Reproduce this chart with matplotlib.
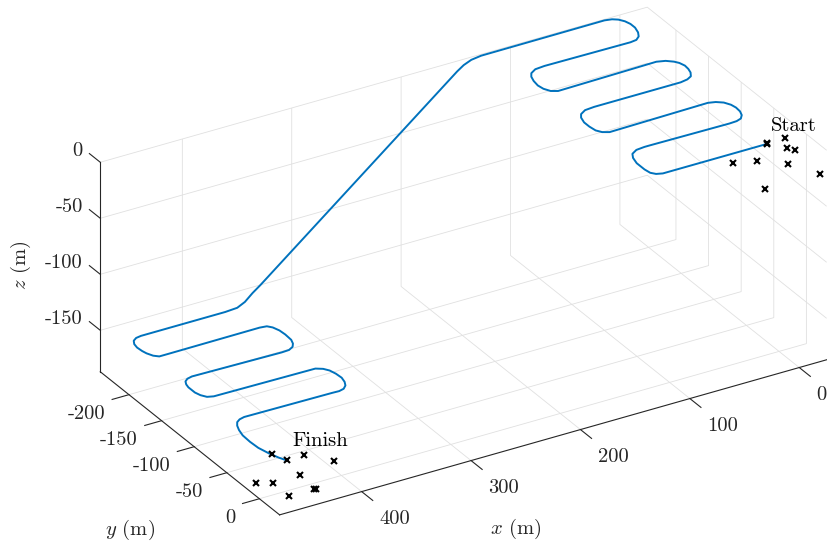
import numpy as np
import matplotlib
matplotlib.use("Agg")
import matplotlib.pyplot as plt
from mpl_toolkits.mplot3d import proj3d

# ---------------- data ----------------
# vehicle track: surface lawnmower, dive, deep lawnmower
path_x = [12, 105, 110, 113, 114, 114, 112, 109, 103, 95, 90,
          18, 11, 6, 2.5, 0.5, 0, 1, 4, 9, 15,
          106, 111, 114, 115, 115, 113, 110, 104, 95,
          16, 9, 4, 1, -0.5, -1, 0.5, 3, 8, 15,
          106, 111, 114, 115, 114, 112, 109, 103, 94,
          16, 10, 5.5, 2.5, 0.5, 0.5, 2, 5, 9, 15,
          128, 137, 144, 150, 330, 337, 344, 351, 362,
          439, 444, 448, 450.5, 451.5, 451, 450, 447.5, 444, 436,
          352, 346, 343, 341, 340.5, 341, 343, 346, 351, 358,
          439, 444, 447.5, 449.5, 450.5, 450.5, 449, 446, 441,
          349, 344, 341, 339.5, 339, 340.5, 343, 347, 352, 358,
          438, 443, 447, 450, 452.5, 454.5, 455, 454.5, 452, 449, 446]
path_y = [-2, -2, -4, -8, -15, -27, -36, -42, -46, -47, -47,
          -46, -46.5, -48.5, -53, -59, -66, -72, -78, -82, -84,
          -82, -85, -90, -98, -106, -114, -119, -123, -124,
          -124, -125.5, -128.5, -134, -140, -146, -152, -156, -160.5, -163,
          -161, -164, -170, -177, -185, -192, -197, -201, -202,
          -201, -202, -206, -212, -220, -227, -233, -238, -241, -242.5,
          -242, -242, -242, -242, -242, -242, -242, -242, -242,
          -242, -241, -238, -233, -227, -220, -215, -209, -205.5, -205.5,
          -206, -205, -201, -194, -186, -176, -170, -165.5, -162.5, -162,
          -164, -162.5, -159.5, -155, -150, -140, -134, -129, -127,
          -125.5, -122, -117, -110, -102, -95, -89.5, -85.5, -84, -84.3,
          -85.5, -84, -81, -76, -69, -60, -48, -36, -24, -14, -7]
path_z = ([0] * 60 +
          [-1.2, -4, -8, -149, -154, -160, -163.3, -164] +
          [-164] * 50)

# beacon / fix markers near start and finish
start_mx = [-6.8, 10, 9, -0.7, -4.1, 49.5, 30.7, 8.0, -24.3, 21.1]
start_my = [-2.9, -1.9, -3.5, 11.3, 17.8, 11.7, 17.6, 26.7, 22.4, 14.3]
start_mz = [0, 0, 0, 0, 0, 0, 0, -5, -25, -30]
finish_mx = [430.3, 425.8, 410.2, 394.6, 429.2, 465.3, 454.3, 430.1, 432.0, 454.3]
finish_my = [-55.7, -40.5, -40.8, -20.9, -14.5, -20.9, -13.5, 12.1, 11.0, 10.7]
finish_mz = [-185] * 10

x_ticks = [0, 100, 200, 300, 400]
y_ticks = [-200, -150, -100, -50, 0]
z_ticks = [-150, -100, -50, 0]
x_ticklabels = ["0", "100", "200", "300", "400"]
y_ticklabels = ["-200", "-150", "-100", "-50", "0"]
z_ticklabels = ["-150", "-100", "-50", "0"]
x_lim = (-25, 475)
y_lim = (-244, 31)
z_lim = (-187, 0)

# ---------------- style ----------------
plt.rcParams["font.family"] = "serif"
plt.rcParams["font.serif"] = ["cmr10"]
plt.rcParams["mathtext.fontset"] = "cm"
plt.rcParams["axes.unicode_minus"] = False
plt.rcParams["grid.color"] = "#e0e0e0"
plt.rcParams["grid.linewidth"] = 0.6
FS = 14.8
TXT = "#262626"
TICK_LW = 0.8

W, H = 827, 544
fig = plt.figure(figsize=(W / 100, H / 100), dpi=100)
S = 520.0
cx, cy = 462.8, H - 261.0
ax = fig.add_axes([(cx - S / 2) / W, (cy - S / 2) / H, S / W, S / H],
                  projection="3d", proj_type="ortho")
ax.view_init(elev=28.4, azim=59.2)
ax.set_xlim(*x_lim)
ax.set_ylim(*y_lim)
ax.set_zlim(*z_lim)
aspect = (x_lim[1] - x_lim[0], y_lim[1] - y_lim[0], z_lim[1] - z_lim[0])
ax.set_box_aspect(aspect, zoom=1.0)

ax.plot(path_x, path_y, path_z, color="#0072BD", lw=1.4, solid_joinstyle="round",
        clip_on=False)
ax.plot(start_mx, start_my, start_mz, "x", color="k", ms=5, mew=1.5, clip_on=False)
ax.plot(finish_mx, finish_my, finish_mz, "x", color="k", ms=5, mew=1.5, clip_on=False)

# grid at the tick values; matplotlib's own tick marks/labels are switched off
# and MATLAB-like ticks and labels are drawn below
ax.set_xticks(x_ticks)
ax.set_yticks(y_ticks)
ax.set_zticks(z_ticks)
ax.title.set_visible(False)
for axis in (ax.xaxis, ax.yaxis, ax.zaxis):
    axis.set_tick_params(label1On=False, label2On=False)
    axis.label.set_visible(False)
    axis.offsetText.set_visible(False)
    axis.set_pane_color((1, 1, 1, 0))
    axis.pane.set_edgecolor((1, 1, 1, 0))
    axis._axinfo["grid"]["color"] = "#e0e0e0"
    axis._axinfo["grid"]["linewidth"] = 0.6
    axis._axinfo["tick"]["inward_factor"] = 0.0
    axis._axinfo["tick"]["outward_factor"] = 0.0
    axis._axinfo["axisline"]["color"] = TXT
    axis.line.set_color(TXT)
    axis.line.set_linewidth(TICK_LW)

x0, x1 = x_lim
y0, y1 = y_lim
z0, z1 = z_lim
for t in x_ticks:
    ax.plot([t, t], [y1, y1 + 17], [z0, z0], color=TXT, lw=TICK_LW, clip_on=False)
for t in y_ticks:
    ax.plot([x1, x1 + 15.4], [t, t], [z0, z0], color=TXT, lw=TICK_LW, clip_on=False)
for t in z_ticks:
    ax.plot([x1, x1], [y0, y0 - 16.7], [t, t], color=TXT, lw=TICK_LW, clip_on=False)

fig.text(516 / W, 1 - 529 / H, "$x$ (m)", fontsize=FS, ha="center", va="center", color=TXT)
fig.text(130 / W, 1 - 530 / H, "$y$ (m)", fontsize=FS, ha="center", va="center", color=TXT)
fig.text(21 / W, 1 - 265 / H, "$z$ (m)", fontsize=FS, ha="center", va="center",
         rotation=90, color=TXT)

# ------------- fit the axes box to the reference layout -------------
box_pts = np.array([[x1, y1, z0], [x1, y0, z1], [x0, y1, z0]], dtype=float)
box_px = np.array([[281.7, 514.3], [99.3, 162.3], [825.5, 360.3]])
target = np.column_stack([box_px[:, 0], H - box_px[:, 1]])


def proj2d(xs, ys, zs):
    X, Y, _ = proj3d.proj_transform(np.asarray(xs, float), np.asarray(ys, float),
                                    np.asarray(zs, float), ax.get_proj())
    return X, Y


def projected():
    fig.canvas.draw()
    X, Y = proj2d(box_pts[:, 0], box_pts[:, 1], box_pts[:, 2])
    return ax.transData.transform(np.column_stack([X, Y]))


zoom = 1.0
for _ in range(3):
    m = projected()
    k = np.linalg.norm(target[2] - target[1]) / np.linalg.norm(m[2] - m[1])
    zoom *= k
    ax.set_box_aspect(aspect, zoom=zoom)
    m = projected()
    off = (target - m).mean(axis=0)
    p = ax.get_position(original=True)
    ax.set_position([p.x0 + off[0] / W, p.y0 + off[1] / H, p.width, p.height])
fig.canvas.draw()


# ------------- texts anchored at projected 3D points -------------
def label3d(x, y, z, s, **kw):
    X, Y = proj2d([x], [y], [z])
    ax.text2D(X[0], Y[0], s, transform=ax.transData, fontsize=FS,
              va="baseline", clip_on=False, **kw)


label3d(-3.7, -18, 0, "Start", ha="left", color="k")
label3d(430, -25.7, -164, "Finish", ha="left", color="k")
for t, lab in zip(x_ticks, x_ticklabels):
    label3d(t, y1 + 26.5, z0 - 16.3, lab, ha="left", color=TXT)
for t, lab in zip(y_ticks, y_ticklabels):
    label3d(x1 + 21.6, t, z0 - 16.1, lab, ha="right", color=TXT)
for t, lab in zip(z_ticks, z_ticklabels):
    label3d(x1, y0 - 26.7, t - 6.8, lab, ha="right", color=TXT)

fig.savefig("out.png", dpi=100)
